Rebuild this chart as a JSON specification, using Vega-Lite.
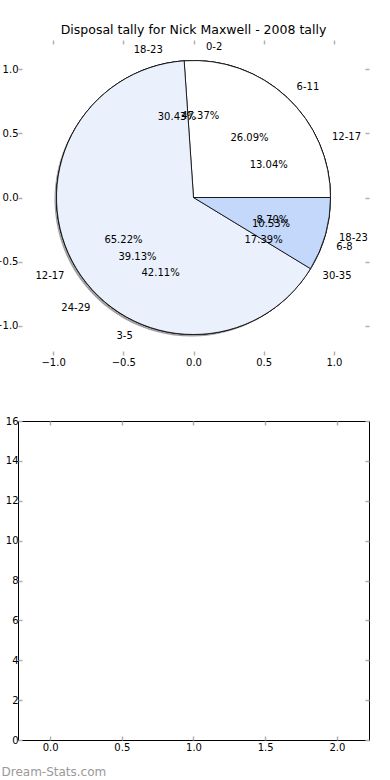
{
  "$schema": "https://vega.github.io/schema/vega-lite/v6.json",
  "background": "white",
  "padding": {"left": -7, "right": 0, "top": 23, "bottom": 0},
  "bounds": "flush",
  "spacing": 66,
  "config": {
    "view": {"stroke": null},
    "font": "DejaVu Sans",
    "axis": {"labelFont": "DejaVu Sans", "labelFontSize": 10, "labelColor": "black", "tickColor": "#b0b0b0", "tickWidth": 1.5, "grid": false, "domain": false, "title": null}
  },
  "datasets": {
    "pies": [
      {"pie": 1, "idx": 0, "label": "6-11", "value": 6, "pct": "26.09%"},
      {"pie": 1, "idx": 1, "label": "12-17", "value": 15, "pct": "65.22%"},
      {"pie": 1, "idx": 2, "label": "18-23", "value": 2, "pct": "8.70%"},
      {"pie": 2, "idx": 0, "label": "12-17", "value": 3, "pct": "13.04%"},
      {"pie": 2, "idx": 1, "label": "18-23", "value": 7, "pct": "30.43%"},
      {"pie": 2, "idx": 2, "label": "24-29", "value": 9, "pct": "39.13%"},
      {"pie": 2, "idx": 3, "label": "30-35", "value": 4, "pct": "17.39%"},
      {"pie": 3, "idx": 0, "label": "0-2", "value": 9, "pct": "47.37%"},
      {"pie": 3, "idx": 1, "label": "3-5", "value": 8, "pct": "42.11%"},
      {"pie": 3, "idx": 2, "label": "6-8", "value": 2, "pct": "10.53%"}
    ]
  },
  "vconcat": [
    {
      "width": 351,
      "height": 315,
      "title": {"text": "Disposal tally for Nick Maxwell - 2008 tally", "font": "DejaVu Sans", "fontSize": 12.5, "fontWeight": "normal", "color": "black", "offset": 3},
      "data": {"name": "pies"},
      "layer": [
        {
          "transform": [{"filter": "datum.pie == 1 && datum.idx == 0"}],
          "mark": {"type": "point", "opacity": 0},
          "encoding": {
            "x": {"datum": 0, "type": "quantitative", "scale": {"domain": [-1.25, 1.25], "nice": false, "zero": false},
                  "axis": {"orient": "bottom", "values": [-1, -0.5, 0, 0.5, 1], "format": ".1f", "tickSize": -4, "labelPadding": 6}},
            "y": {"datum": 0, "type": "quantitative", "scale": {"domain": [-1.23, 1.23], "nice": false, "zero": false},
                  "axis": {"orient": "left", "values": [-1, -0.5, 0, 0.5, 1], "format": ".1f", "tickSize": -4, "labelPadding": 4}}
          }
        },
        {
          "transform": [{"filter": "datum.pie == 1 && datum.idx == 0"}],
          "mark": {"type": "point", "opacity": 0},
          "encoding": {
            "x": {"datum": 0, "type": "quantitative", "axis": {"orient": "top", "values": [-1, -0.5, 0, 0.5, 1], "labels": false, "tickSize": -4}},
            "y": {"datum": 0, "type": "quantitative", "axis": {"orient": "right", "values": [-1, -0.5, 0, 0.5, 1], "labels": false, "tickSize": -4}}
          }
        },
        {
          "transform": [{"filter": "datum.pie == 1"}],
          "mark": {"type": "arc", "radius": 137, "color": "#444444", "opacity": 0.5, "xOffset": -2, "yOffset": 2},
          "encoding": {
            "theta": {"field": "value", "type": "quantitative", "stack": "normalize", "scale": {"domain": [0, 1], "range": [1.5707963, -4.712389]}},
            "order": {"field": "idx"}
          }
        },
        {
          "transform": [{"filter": "datum.pie == 3"}],
          "mark": {"type": "arc", "radius": 137, "stroke": "black", "strokeWidth": 0.8},
          "encoding": {
            "theta": {"field": "value", "type": "quantitative", "stack": "normalize"},
            "order": {"field": "idx"},
            "color": {"field": "idx", "type": "nominal", "scale": {"domain": [0, 1, 2, 3], "range": ["#ffffff", "#eaf1fd", "#c4d8fb", "#ffffff"]}, "legend": null}
          }
        },
        {
          "transform": [{"filter": "datum.pie == 2"}],
          "mark": {"type": "arc", "radius": 137, "stroke": "black", "strokeWidth": 0.8},
          "encoding": {
            "theta": {"field": "value", "type": "quantitative", "stack": "normalize"},
            "order": {"field": "idx"},
            "color": {"field": "idx", "type": "nominal", "legend": null}
          }
        },
        {
          "transform": [{"filter": "datum.pie == 1"}],
          "mark": {"type": "arc", "radius": 137, "stroke": "black", "strokeWidth": 0.8},
          "encoding": {
            "theta": {"field": "value", "type": "quantitative", "stack": "normalize"},
            "order": {"field": "idx"},
            "color": {"field": "idx", "type": "nominal", "legend": null}
          }
        },
        {
          "transform": [{"filter": "datum.pie == 1"}],
          "mark": {"type": "text", "radius": 151, "font": "DejaVu Sans", "fontSize": 10, "color": "black", "baseline": "middle", "align": {"expr": "cos(PI*(datum.value_start+datum.value_end)) >= 0 ? 'left' : 'right'"}},
          "encoding": {"theta": {"field": "value", "type": "quantitative", "stack": "normalize"}, "order": {"field": "idx"}, "text": {"field": "label"}}
        },
        {
          "transform": [{"filter": "datum.pie == 2"}],
          "mark": {"type": "text", "radius": 151, "font": "DejaVu Sans", "fontSize": 10, "color": "black", "baseline": "middle", "align": {"expr": "cos(PI*(datum.value_start+datum.value_end)) >= 0 ? 'left' : 'right'"}},
          "encoding": {"theta": {"field": "value", "type": "quantitative", "stack": "normalize"}, "order": {"field": "idx"}, "text": {"field": "label"}}
        },
        {
          "transform": [{"filter": "datum.pie == 3"}],
          "mark": {"type": "text", "radius": 151, "font": "DejaVu Sans", "fontSize": 10, "color": "black", "baseline": "middle", "align": {"expr": "cos(PI*(datum.value_start+datum.value_end)) >= 0 ? 'left' : 'right'"}},
          "encoding": {"theta": {"field": "value", "type": "quantitative", "stack": "normalize"}, "order": {"field": "idx"}, "text": {"field": "label"}}
        },
        {
          "transform": [{"filter": "datum.pie == 1"}],
          "mark": {"type": "text", "radius": 82, "font": "DejaVu Sans", "fontSize": 10, "color": "black", "baseline": "middle", "align": "center"},
          "encoding": {"theta": {"field": "value", "type": "quantitative", "stack": "normalize"}, "order": {"field": "idx"}, "text": {"field": "pct"}}
        },
        {
          "transform": [{"filter": "datum.pie == 2"}],
          "mark": {"type": "text", "radius": 82, "font": "DejaVu Sans", "fontSize": 10, "color": "black", "baseline": "middle", "align": "center"},
          "encoding": {"theta": {"field": "value", "type": "quantitative", "stack": "normalize"}, "order": {"field": "idx"}, "text": {"field": "pct"}}
        },
        {
          "transform": [{"filter": "datum.pie == 3"}],
          "mark": {"type": "text", "radius": 82, "font": "DejaVu Sans", "fontSize": 10, "color": "black", "baseline": "middle", "align": "center"},
          "encoding": {"theta": {"field": "value", "type": "quantitative", "stack": "normalize"}, "order": {"field": "idx"}, "text": {"field": "pct"}}
        }
      ],
      "resolve": {"axis": {"x": "independent", "y": "independent"}}
    },
    {
      "width": 351,
      "height": 319,
      "view": {"stroke": "black", "strokeWidth": 1},
      "data": {"name": "pies"},
      "layer": [
        {
          "transform": [{"filter": "datum.pie == 1 && datum.idx == 0"}],
          "mark": {"type": "point", "opacity": 0},
          "encoding": {
            "x": {"datum": 1, "type": "quantitative", "scale": {"domain": [-0.224, 2.224], "nice": false, "zero": false},
                  "axis": {"orient": "bottom", "values": [0, 0.5, 1, 1.5, 2], "format": ".1f", "tickSize": -4, "labelPadding": 6,
                           "title": "Dream-Stats.com", "titleFont": "DejaVu Sans", "titleFontSize": 12, "titleFontWeight": "normal", "titleColor": "#999999",
                           "titleAnchor": "start", "titleAlign": "left", "titleBaseline": "middle", "titleX": -17, "titleY": 31}},
            "y": {"datum": 8, "type": "quantitative", "scale": {"domain": [0, 16], "nice": false, "zero": false},
                  "axis": {"orient": "left", "values": [0, 2, 4, 6, 8, 10, 12, 14, 16], "format": "d", "tickSize": -4, "labelPadding": 4}}
          }
        },
        {
          "transform": [{"filter": "datum.pie == 1 && datum.idx == 0"}],
          "mark": {"type": "point", "opacity": 0},
          "encoding": {
            "x": {"datum": 1, "type": "quantitative", "axis": {"orient": "top", "values": [0, 0.5, 1, 1.5, 2], "labels": false, "tickSize": -4}},
            "y": {"datum": 8, "type": "quantitative", "axis": {"orient": "right", "values": [0, 2, 4, 6, 8, 10, 12, 14, 16], "labels": false, "tickSize": -4}}
          }
        }
      ],
      "resolve": {"axis": {"x": "independent", "y": "independent"}}
    }
  ]
}
